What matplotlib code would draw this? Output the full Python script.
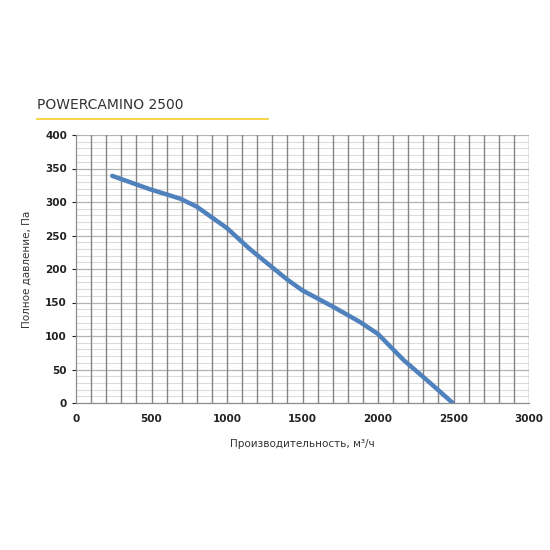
import matplotlib
matplotlib.use("Agg")
import matplotlib.pyplot as plt
import numpy as np
from matplotlib.lines import Line2D

flow = [240, 490, 690, 800, 1000, 1150, 1400, 1500, 1700, 1880, 2000, 2170, 2345, 2495]
pressure = [339, 319, 305, 293, 261, 230, 184, 168, 144, 121, 103, 64, 30, 0]
x_ticks = [0, 500, 1000, 1500, 2000, 2500, 3000]
y_ticks = [0, 50, 100, 150, 200, 250, 300, 350, 400]
title = "POWERCAMINO 2500"
xlabel = "Производительность, м³/ч"
ylabel = "Полное давление, Па"

fig = plt.figure(figsize=(5.5, 5.5), dpi=100)
ax = fig.add_axes([76/550, 1-403/550, (529-76)/550, (403-135)/550])

ax.set_xlim(0, 3000)
ax.set_ylim(0, 400)

# grid
for xv in np.arange(100, 3001, 100):
    ax.axvline(xv, color="#858585", lw=1.0, zorder=1)
for yv in np.arange(10, 401, 10):
    if yv % 50 == 0:
        ax.axhline(yv, color="#b3b3b3", lw=0.9, zorder=0.9)
    else:
        ax.axhline(yv, color="#dcdcdc", lw=0.8, zorder=0.8)

ax.plot(flow, pressure, color="#4f81bd", lw=3.2, solid_capstyle="round",
        solid_joinstyle="round", zorder=3)

ax.set_xticks(x_ticks)
ax.set_yticks(y_ticks)
ax.tick_params(axis="both", labelsize=7.5, colors="#222222", length=3, width=0.8)
ax.tick_params(axis="x", pad=8, length=0)
for lab in ax.get_xticklabels() + ax.get_yticklabels():
    lab.set_fontweight("bold")
for s in ["top", "right"]:
    ax.spines[s].set_visible(False)
for s in ["left", "bottom"]:
    ax.spines[s].set_color("#8c8c8c")
    ax.spines[s].set_linewidth(0.9)

ax.set_xlabel(xlabel, fontsize=7.5, color="#333333", labelpad=11)
ax.set_ylabel(ylabel, fontsize=7.5, color="#333333", labelpad=10)

fig.text(37/550, 1-112/550, title, fontsize=10, color="#333333", va="bottom", ha="left")
fig.add_artist(Line2D([37/550, 268/550], [1-119/550, 1-119/550], color="#f2d23c", lw=1.3, transform=fig.transFigure))

fig.savefig("out.png", dpi=100, facecolor="white")
